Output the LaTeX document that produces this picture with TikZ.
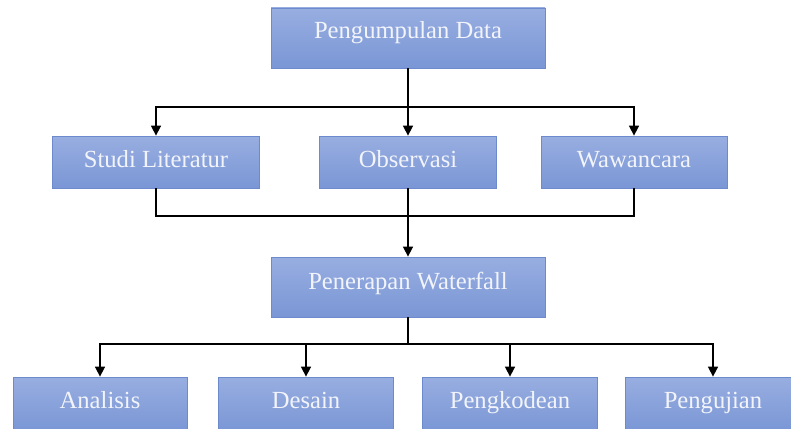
\documentclass[tikz,border=0pt]{standalone}
\usepackage{fontspec}
\setmainfont{Liberation Serif}
\usetikzlibrary{arrows.meta}
\definecolor{boxtop}{RGB}{152,174,225}
\definecolor{boxbot}{RGB}{122,150,213}
\definecolor{boxline}{RGB}{108,138,204}
\definecolor{boxtext}{RGB}{242,244,250}
\tikzset{
  box/.style={rectangle, draw=boxline, line width=0.8pt, top color=boxtop, bottom color=boxbot,
    text=boxtext, font=\fontsize{24.6}{28}\selectfont, inner sep=0pt},
  topbox/.style={box, minimum width=274pt, minimum height=60pt, text height=13pt, text depth=11pt},
  midbox/.style={box, minimum height=52pt, text height=16pt, text depth=6pt},
  wfbox/.style={box, minimum width=274pt, minimum height=60pt, text height=14pt, text depth=10pt},
  lowbox/.style={box, minimum width=175pt, minimum height=54pt, text height=15pt, text depth=7pt},
  conn/.style={draw=black, line width=1.6pt},
  arr/.style={conn, -{Triangle[length=10pt,width=10pt]}}
}
\begin{document}
\begin{tikzpicture}[x=1pt,y=-1pt]
\useasboundingbox (0,0) rectangle (791,428);
\node[topbox] (pd) at (408,38) {Pengumpulan Data};
\node[midbox, minimum width=207pt] (sl) at (156,162) {Studi Literatur};
\node[midbox, minimum width=177pt] (ob) at (408,162) {Observasi};
\node[midbox, minimum width=186pt] (ww) at (634,162) {Wawancara};
\node[wfbox] (pw) at (408,287) {Penerapan Waterfall};
\node[lowbox, minimum width=174pt] (an) at (100,404) {Analisis};
\node[lowbox] (de) at (306,404) {Desain};
\node[lowbox] (pk) at (510,404) {Pengkodean};
\node[lowbox] (pg) at (713,404) {Pengujian};
\coordinate (t1) at (408,107);
\coordinate (t2) at (408,216);
\coordinate (t3) at (408,344);
\draw[arr] (pd.south) -- (ob.north);
\draw[arr] (t1) -| (sl.north);
\draw[arr] (t1) -| (ww.north);
\draw[conn] (sl.south) |- (t2) -| (ww.south);
\draw[arr] (ob.south) -- (pw.north);
\draw[conn] (pw.south) -- (t3);
\draw[arr] (t3) -| (an.north);
\draw[arr] (t3) -| (de.north);
\draw[arr] (t3) -| (pk.north);
\draw[arr] (t3) -| (pg.north);
\end{tikzpicture}
\end{document}
